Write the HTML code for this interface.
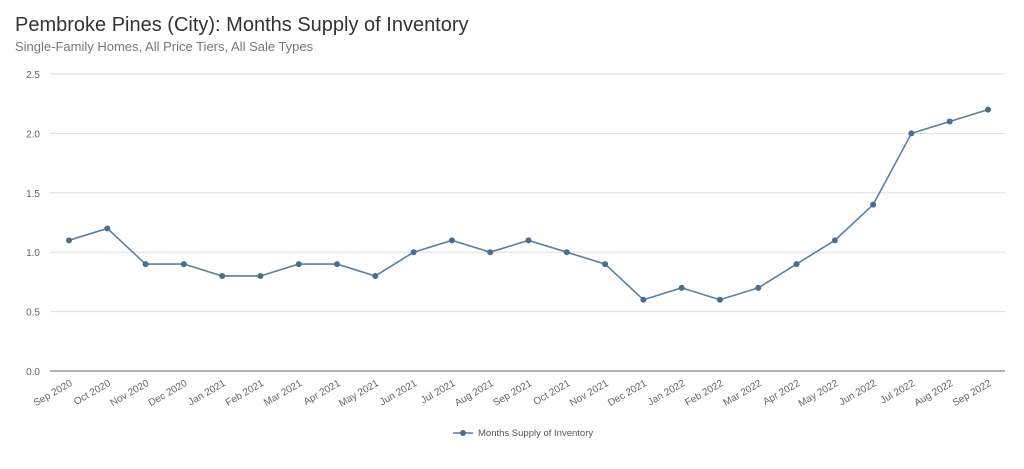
<!DOCTYPE html>
<html><head><meta charset="utf-8"><style>
body{margin:0;background:#fff;font-family:"Liberation Sans",sans-serif;}
#wrap{position:relative;width:1024px;height:469px;overflow:hidden;}
.title{position:absolute;left:15px;top:14px;font-size:20px;color:#333;}
.sub{position:absolute;left:15px;top:39px;font-size:13px;color:#777;}
</style></head><body>
<div id="wrap">
<div class="title">Pembroke Pines (City): Months Supply of Inventory</div>
<div class="sub">Single-Family Homes, All Price Tiers, All Sale Types</div>
<svg id="svg" width="1024" height="469" style="position:absolute;left:0;top:0"></svg>
</div>
<script>
const categories=["Sep 2020","Oct 2020","Nov 2020","Dec 2020","Jan 2021","Feb 2021","Mar 2021","Apr 2021","May 2021","Jun 2021","Jul 2021","Aug 2021","Sep 2021","Oct 2021","Nov 2021","Dec 2021","Jan 2022","Feb 2022","Mar 2022","Apr 2022","May 2022","Jun 2022","Jul 2022","Aug 2022","Sep 2022"];
const values=[1.1,1.2,0.9,0.9,0.8,0.8,0.9,0.9,0.8,1.0,1.1,1.0,1.1,1.0,0.9,0.6,0.7,0.6,0.7,0.9,1.1,1.4,2.0,2.1,2.2];
const yTicks=[0,0.5,1.0,1.5,2.0,2.5];
const NS="http://www.w3.org/2000/svg";
const svg=document.getElementById('svg');
const x0=69,x1=988,yBase=371,yTop=74,yMax=2.5;
function xs(i){return x0+(x1-x0)*i/(categories.length-1);}
function ys(v){return yBase-(yBase-yTop)*v/yMax;}
function mk(t,a){const e=document.createElementNS(NS,t);for(const k in a)e.setAttribute(k,a[k]);svg.appendChild(e);return e;}
yTicks.forEach(v=>{
 const l=mk('line',{x1:50,x2:1005,y1:ys(v),y2:ys(v),stroke:v===0?'#666':'#ddd','stroke-width':1});
 
 
 const t=mk('text',{x:40,y:ys(v)+4,'text-anchor':'end','font-size':10,fill:'#666'});
 t.textContent=v.toFixed(1);
 
 
});
categories.forEach((c,i)=>{
 const t=mk('text',{x:xs(i)+4,y:yBase+14,'text-anchor':'end','font-size':10,fill:'#666',transform:`rotate(-30 ${xs(i)+4} ${yBase+14})`});
 t.textContent=c;
 
 
});
const p=mk('polyline',{points:values.map((v,i)=>xs(i)+','+ys(v)).join(' '),fill:'none',stroke:'#5b7f9f','stroke-width':1.6});


values.forEach((v,i)=>{
 const c=mk('circle',{cx:xs(i),cy:ys(v),r:3,fill:'#4a6e8f'});
 
 
});
const ll=mk('line',{x1:453,x2:473,y1:433,y2:433,stroke:'#5b7f9f','stroke-width':1.6});


const lc=mk('circle',{cx:463,cy:433,r:3,fill:'#4a6e8f'});


const lt=mk('text',{x:478,y:436,'font-size':9.5,fill:'#555'});
lt.textContent='Months Supply of Inventory';


</script>
</body></html>
